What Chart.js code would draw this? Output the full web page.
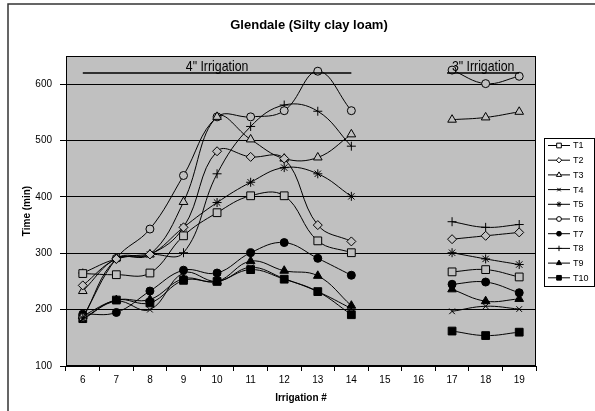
<!DOCTYPE html>
<html>
<head>
<meta charset="utf-8">
<script src="https://cdn.jsdelivr.net/npm/chart.js@4"></script>
<style>
  html, body { margin: 0; padding: 0; background: #fff; }
  #wrap { width: 595px; height: 411px; }
</style>
</head>
<body>
<div id="wrap"><canvas id="chart" width="595" height="411"></canvas></div>
<script>
// Irrigation number (15 and 16 have no readings)
const irrigations = ['6', '7', '8', '9', '10', '11', '12', '13', '14', '15', '16', '17', '18', '19'];

// Time (min) per treatment
const t1 = [264, 262, 265, 331, 372, 402, 402, 322, 301, null, null, 267, 271, 258];
const t2 = [243, 290, 298, 346, 481, 471, 468, 350, 321, null, null, 325, 331, 337];
const t3 = [233, 291, 298, 391, 542, 502, 468, 470, 511, null, null, 537, 541, 551];
const t4 = [183, 215, 200, 265, 250, 275, 255, 232, 202, null, null, 197, 206, 201];
const t5 = [185, 290, 298, 346, 390, 426, 452, 441, 401, null, null, 301, 290, 280];
const t6 = [186, 291, 343, 438, 542, 542, 553, 623, 553, null, null, 625, 601, 614];
const t7 = [192, 195, 233, 270, 265, 301, 319, 291, 261, null, null, 245, 249, 230];
const t8 = [265, 290, 298, 301, 441, 525, 563, 552, 490, null, null, 356, 346, 351];
const t9 = [189, 217, 218, 255, 250, 286, 269, 260, 207, null, null, 236, 215, 219];
const t10 = [184, 217, 212, 252, 250, 271, 254, 232, 191, null, null, 162, 154, 160];

const yTicks = [100, 200, 300, 400, 500, 600];

const plotGray = '#c0c0c0';
const font = '"Liberation Sans", Arial, sans-serif';

function series(label, data, style, radius, filled) {
    return {
        label: label,
        data: data,
        borderColor: '#000',
        borderWidth: 1,
        pointStyle: style,
        pointRadius: radius,
        pointHoverRadius: radius,
        pointBorderColor: '#000',
        pointBorderWidth: 1,
        pointBackgroundColor: filled ? '#000' : plotGray,
        tension: 0.4,
        spanGaps: false,
        fill: false
    };
}

const datasets = [
    series('T1', t1, 'rect', 5.5, false),
    series('T2', t2, 'rectRot', 4.5, false),
    series('T3', t3, 'triangle', 5, false),
    series('T4', t4, 'crossRot', 4, false),
    series('T5', t5, 'star', 4.5, false),
    series('T6', t6, 'circle', 4, false),
    series('T7', t7, 'circle', 4, true),
    series('T8', t8, 'cross', 4.5, false),
    series('T9', t9, 'triangle', 5, true),
    series('T10', t10, 'rect', 5.5, true)
];

// narrow text, squeezed horizontally like Arial Narrow
function narrowText(ctx, text, cx, by) {
    ctx.save();
    ctx.translate(cx, by);
    ctx.scale(0.82, 1);
    ctx.fillText(text, 0, 0);
    ctx.restore();
}

// background, frame, titles, irrigation notes and legend box
const decor = {
    id: 'decor',
    beforeDraw(chart) {
        const { ctx, chartArea: a } = chart;
        ctx.save();
        ctx.fillStyle = '#fff';
        ctx.fillRect(0, 0, chart.width, chart.height);
        ctx.fillStyle = plotGray;
        ctx.fillRect(a.left, a.top, a.right - a.left, a.bottom - a.top);
        ctx.restore();
    },
    afterDraw(chart) {
        const { ctx, chartArea: a } = chart;
        const x = chart.scales.x, y = chart.scales.y;
        ctx.save();

        // plot border
        ctx.strokeStyle = '#000';
        ctx.lineWidth = 1;
        ctx.strokeRect(a.left + 0.5, a.top + 0.5, a.right - a.left - 1, a.bottom - a.top - 1);

        // outer frame
        ctx.strokeStyle = '#333';
        ctx.lineWidth = 1.5;
        ctx.beginPath();
        ctx.moveTo(8, chart.height);
        ctx.lineTo(8, 4);
        ctx.lineTo(chart.width, 4);
        ctx.stroke();

        ctx.fillStyle = '#000';
        ctx.textAlign = 'center';
        ctx.textBaseline = 'middle';
        ctx.font = 'bold 13px ' + font;
        ctx.fillText('Glendale (Silty clay loam)', 309, 25);

        ctx.font = 'bold 10px ' + font;
        ctx.fillText('Irrigation #', (a.left + a.right) / 2, 398);
        ctx.save();
        ctx.translate(27, (a.top + a.bottom) / 2);
        ctx.rotate(-Math.PI / 2);
        ctx.fillText('Time (min)', 0, 0);
        ctx.restore();

        // irrigation depth notes
        const noteY = y.getPixelForValue(620);
        ctx.lineWidth = 1.5;
        ctx.strokeStyle = '#000';
        ctx.beginPath();
        ctx.moveTo(x.getPixelForValue(0), noteY);
        ctx.lineTo(x.getPixelForValue(8), noteY);
        ctx.moveTo(x.getPixelForValue(11) - 5, noteY);
        ctx.lineTo(x.getPixelForValue(13), noteY);
        ctx.stroke();
        ctx.font = '15px ' + font;
        ctx.textBaseline = 'alphabetic';
        narrowText(ctx, '4" Irrigation', (x.getPixelForValue(0) + x.getPixelForValue(8)) / 2, noteY - 2);
        narrowText(ctx, '3" Irrigation', (x.getPixelForValue(11) - 5 + x.getPixelForValue(13)) / 2, noteY - 2);

        // legend
        const lx = 544, ly = 138, lw = 50, rowH = 14.7;
        ctx.lineWidth = 1;
        ctx.strokeStyle = '#000';
        ctx.strokeRect(lx + 0.5, ly + 0.5, lw, rowH * datasets.length + 1);
        ctx.font = '9px ' + font;
        ctx.textAlign = 'left';
        ctx.textBaseline = 'middle';
        datasets.forEach((d, i) => {
            const ry = ly + 7.5 + i * rowH;
            ctx.strokeStyle = '#000';
            ctx.lineWidth = 1;
            ctx.beginPath();
            ctx.moveTo(lx + 4, ry);
            ctx.lineTo(lx + 26, ry);
            ctx.stroke();
            ctx.fillStyle = d.pointBackgroundColor === '#000' ? '#000' : '#fff';
            Chart.helpers.drawPoint(ctx, {
                pointStyle: d.pointStyle,
                radius: d.pointRadius * 0.6,
                rotation: 0,
                borderWidth: 1
            }, lx + 15, ry);
            ctx.fillStyle = '#000';
            ctx.fillText(d.label, lx + 29, ry + 0.5);
        });
        ctx.restore();
    }
};

new Chart(document.getElementById('chart'), {
    type: 'line',
    data: { labels: irrigations, datasets: datasets },
    options: {
        responsive: false,
        animation: false,
        events: [],
        layout: { padding: { top: 56, right: 59, left: 0, bottom: 0 } },
        plugins: {
            legend: { display: false },
            title: { display: false },
            tooltip: { enabled: false }
        },
        scales: {
            x: {
                offset: true,
                grid: { drawOnChartArea: false, offset: true, tickLength: 5, color: '#000' },
                border: { color: '#000' },
                ticks: { color: '#000', font: { size: 10, family: font }, padding: 3, maxRotation: 0, autoSkip: false },
                afterFit(scale) { scale.height = 45; }
            },
            y: {
                min: 100,
                max: 650,
                grid: { color: '#000', tickLength: 6 },
                border: { color: '#000' },
                ticks: { color: '#000', font: { size: 10, family: font }, stepSize: 100, padding: 8 },
                afterBuildTicks(scale) {
                    scale.ticks = yTicks.map(v => ({ value: v }));
                },
                afterFit(scale) { scale.width = 66; }
            }
        }
    },
    plugins: [decor]
});
</script>
</body>
</html>
